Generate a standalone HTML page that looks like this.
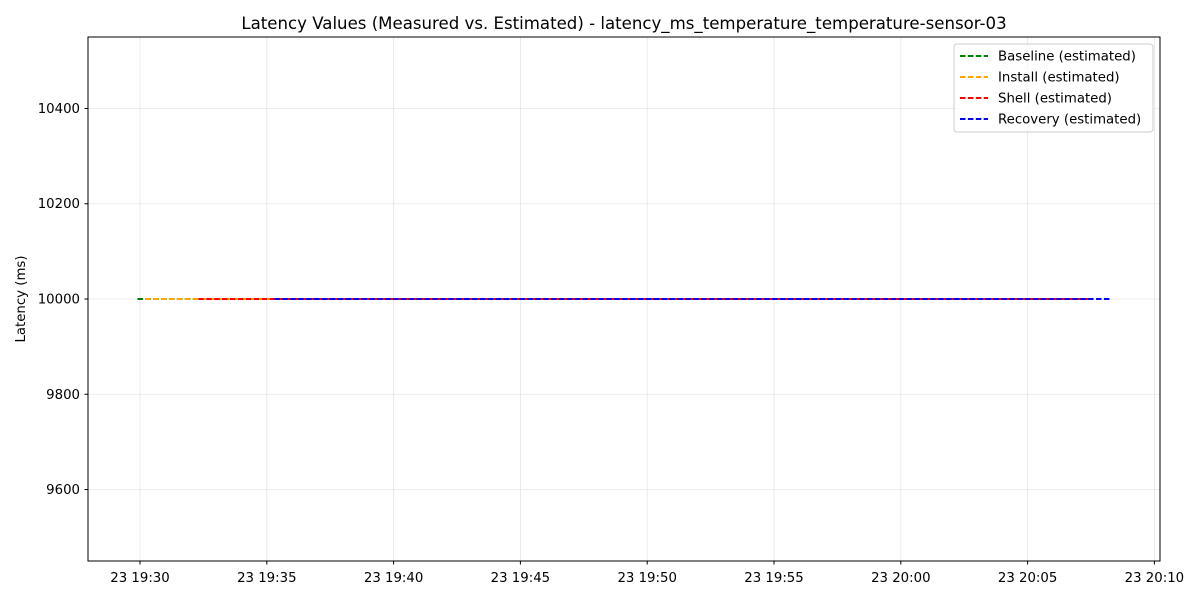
<!DOCTYPE html>
<html><head><meta charset="utf-8"><style>
body{margin:0;background:#fff;font-family:"DejaVu Sans","Liberation Sans",sans-serif}
</style></head><body>
<svg id="chart" width="1200" height="600" xmlns="http://www.w3.org/2000/svg" font-family="DejaVu Sans, Liberation Sans, sans-serif">
<rect width="1200" height="600" fill="#fff"/>
<text x="624" y="29" text-anchor="middle" font-size="16.6">Latency Values (Measured vs. Estimated) - latency_ms_temperature_temperature-sensor-03</text>
<g id="grid"></g><g id="ticks"></g><g id="series"></g>
<rect x="88" y="37" width="1072" height="524" fill="none" stroke="#000" stroke-width="1"/>
<text transform="translate(25,299) rotate(-90)" text-anchor="middle" font-size="13.3">Latency (ms)</text>
<g>
<rect x="954" y="44" width="199" height="88" rx="3" fill="#fff" fill-opacity="0.8" stroke="#ccc"/>
<g id="legend-items"></g>
</g>
</svg>
<script>
const yTicks=[9600,9800,10000,10200,10400];
const xTickMinutes=[0,5,10,15,20,25,30,35,40];
const xTickLabels=["23 19:30","23 19:35","23 19:40","23 19:45","23 19:50","23 19:55","23 20:00","23 20:05","23 20:10"];
const seriesNames=["Baseline (estimated)","Install (estimated)","Shell (estimated)","Recovery (estimated)"];
const seriesColors=["green","orange","red","blue"];
const seriesStart=[-0.1,0.2,2.3,5.3];
const seriesEnd=[2.2,6.0,37.5,38.3];
const seriesValue=[10000,10000,10000,10000];
const NS="http://www.w3.org/2000/svg";
const xs=m=>140+m*25.36;
const ys=v=>299-(v-10000)*0.4763;
function mk(t,a,p){const e=document.createElementNS(NS,t);for(const k in a)e.setAttribute(k,a[k]);p.appendChild(e);return e;}
const grid=document.getElementById('grid'),ticks=document.getElementById('ticks'),ser=document.getElementById('series'),leg=document.getElementById('legend-items');
yTicks.forEach(v=>{const y=ys(v);
const g=mk('line',{x1:88,x2:1160,y1:y,y2:y,stroke:'#e6e6e6','stroke-width':0.8},grid);


mk('line',{x1:84.5,x2:88,y1:y,y2:y,stroke:'#000'},ticks);
const t=mk('text',{x:80,y:y+4.5,'text-anchor':'end','font-size':13.3},ticks);t.textContent=v;

});
xTickMinutes.forEach((m,i)=>{const x=xs(m);
const g=mk('line',{x1:x,x2:x,y1:37,y2:561,stroke:'#e6e6e6','stroke-width':0.8},grid);


mk('line',{x1:x,x2:x,y1:561,y2:564.5,stroke:'#000'},ticks);
const t=mk('text',{x:x,y:582,'text-anchor':'middle','font-size':13.3},ticks);t.textContent=xTickLabels[i];

});
seriesNames.forEach((n,i)=>{
const l=mk('line',{x1:xs(seriesStart[i]),x2:xs(seriesEnd[i]),y1:ys(seriesValue[i]),y2:ys(seriesValue[i]),stroke:seriesColors[i],'stroke-width':2,'stroke-dasharray':'5.5 2.4'},ser);


const y=56+i*21;
mk('line',{x1:960,x2:988,y1:y,y2:y,stroke:seriesColors[i],'stroke-width':2,'stroke-dasharray':'5.5 2.4'},leg);
const t=mk('text',{x:998,y:y+4.5,'font-size':13.3},leg);t.textContent=n;

});
</script>
</body></html>
